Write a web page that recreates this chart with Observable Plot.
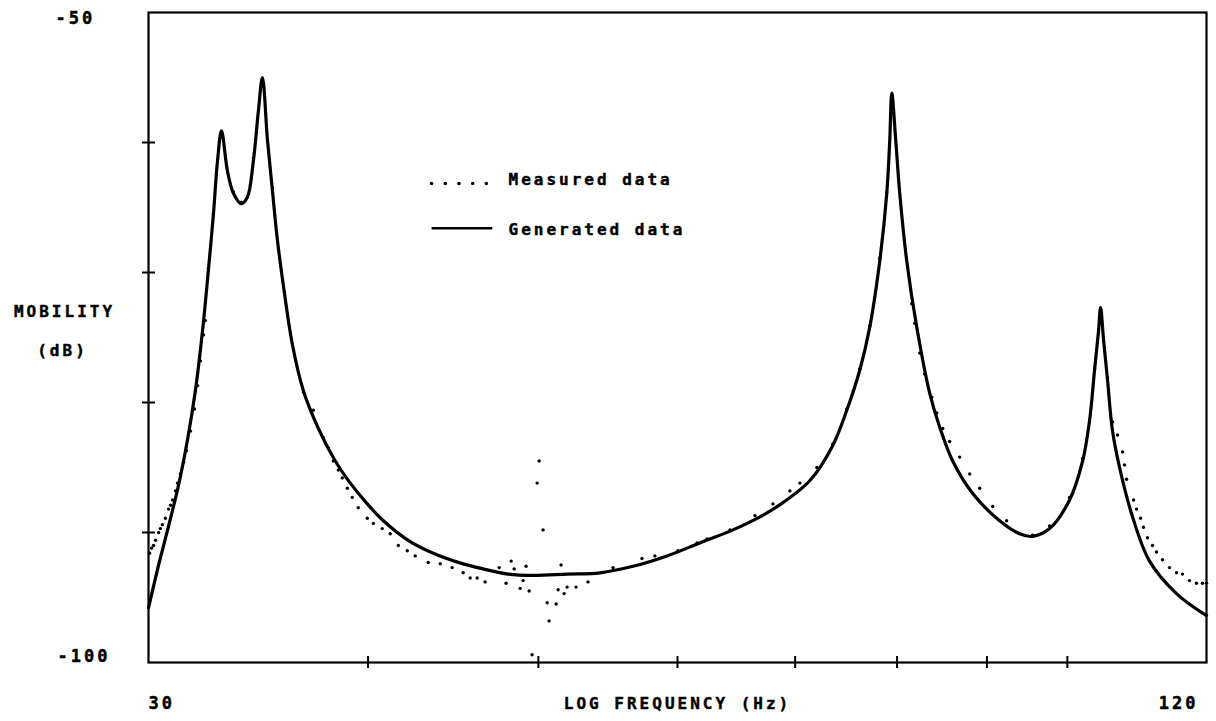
<!DOCTYPE html>
<html>
<head>
<meta charset="utf-8">
<script src="https://cdn.jsdelivr.net/npm/d3@7"></script>
<script src="https://cdn.jsdelivr.net/npm/@observablehq/plot@0.6"></script>
<style>
  body { margin: 0; background: #fff; }
  svg text { letter-spacing: 3px; }
</style>
</head>
<body>
<div id="chart"></div>
<script>
// ---- Data (frequency in Hz, mobility in dB) ----
const genFreq = [30.00, 30.40, 30.80, 31.20, 31.57, 31.90, 32.20, 32.45, 32.66, 32.84, 33.01, 33.27, 33.53, 33.88, 34.15, 34.42, 34.65, 34.83, 35.06, 35.29, 35.52, 35.85, 36.22, 36.75, 37.48, 38.32, 39.08, 39.96, 40.81, 42.16, 43.57, 45.02, 46.51, 48.06, 49.66, 51.92, 54.21, 56.60, 59.18, 61.79, 64.52, 66.84, 68.89, 71.37, 73.54, 74.90, 76.19, 77.19, 78.21, 78.93, 79.24, 79.45, 79.86, 80.28, 81.02, 82.09, 83.50, 84.60, 86.05, 88.34, 91.51, 93.94, 95.55, 97.70, 100.29, 102.02, 102.95, 103.63, 104.17, 104.45, 104.86, 105.41, 106.10, 107.08, 108.92, 111.37, 115.37, 120.00];
const genDb = [-95.8, -92.5, -89.5, -86.4, -82.9, -79.1, -74.5, -69.8, -65.6, -61.4, -59.1, -62.2, -63.9, -64.7, -64.2, -61.4, -57.5, -55.0, -59.8, -63.7, -67.5, -71.6, -75.5, -79.1, -82.0, -84.5, -86.2, -87.8, -89.1, -90.6, -91.6, -92.3, -92.8, -93.2, -93.3, -93.2, -93.1, -92.6, -91.8, -90.8, -89.8, -88.8, -87.7, -86.0, -83.3, -80.6, -77.5, -74.2, -69.1, -63.9, -59.8, -56.2, -59.8, -63.9, -69.1, -74.2, -79.3, -81.9, -84.5, -87.0, -89.1, -90.1, -90.3, -89.7, -87.5, -84.5, -81.4, -77.5, -74.5, -72.7, -75.2, -78.3, -82.2, -85.0, -88.8, -92.2, -94.7, -96.4];

const measFreq = [30.04, 30.12, 30.20, 30.28, 30.40, 30.47, 30.55, 30.67, 30.80, 30.88, 30.96, 31.08, 31.16, 31.28, 31.41, 31.53, 31.70, 31.86, 31.99, 32.11, 32.24, 32.32,
  32.45, 32.66, 33.01, 33.53, 33.88, 34.42, 34.83, 35.29, 35.85, 36.75,
  37.23, 37.72, 37.97, 38.22, 38.47, 38.67, 38.93, 39.18, 39.49, 39.96, 40.28, 40.75, 41.18, 41.62, 42.11, 42.55, 43.28, 43.97, 44.66, 45.31, 45.73, 46.15, 46.63,
  47.50, 47.93, 48.25, 48.44, 48.82, 49.01, 49.20, 49.40, 49.59, 49.92, 50.05, 50.31, 50.58, 50.71, 51.18, 51.31, 51.51, 51.72, 51.92, 52.53, 53.36,
  55.14, 57.27, 58.25, 60.03, 61.55, 62.36, 64.27, 66.41, 67.99, 69.52, 70.44, 72.02, 73.54, 74.90, 76.19, 77.19, 78.21, 78.93, 79.45,
  81.55, 81.88, 82.41, 82.95, 83.72, 84.27, 84.93, 85.71, 86.84, 87.99, 89.15, 90.68, 92.35, 95.55, 97.70, 100.29, 102.02, 103.63, 104.45, 105.41, 106.10,
  106.80, 107.50, 107.78, 108.06, 109.06, 109.49, 110.06, 110.49, 111.07, 111.80, 112.39, 113.28, 114.32, 115.37, 116.28, 117.35, 118.43, 119.37, 120.00];
const measDb = [-91.6, -91.2, -91.0, -90.6, -90.0, -89.7, -89.4, -88.9, -88.2, -87.9, -87.5, -86.8, -86.2, -85.5, -84.6, -83.7, -82.2, -80.5, -78.7, -76.8, -74.8, -73.7,
  -69.7, -65.5, -59.2, -63.8, -64.6, -61.2, -55.1, -63.5, -71.5, -79.2,
  -80.6, -82.7, -83.5, -84.5, -85.2, -85.8, -86.6, -87.3, -88.1, -88.9, -89.3, -89.7, -90.1, -91.0, -91.4, -91.8, -92.3, -92.4, -92.7, -93.1, -93.5, -93.5, -93.8,
  -92.7, -93.9, -92.2, -92.8, -94.3, -93.7, -92.6, -94.5, -99.4, -86.2, -84.5, -89.8, -95.4, -96.8, -95.5, -94.4, -92.5, -94.7, -94.2, -94.2, -93.8,
  -92.7, -92.0, -91.8, -91.4, -90.8, -90.5, -89.8, -88.7, -87.8, -86.8, -86.2, -85.0, -83.2, -80.5, -77.4, -74.1, -68.9, -63.8, -56.4,
  -72.4, -73.9, -76.2, -77.8, -79.6, -80.8, -82.0, -83.0, -84.2, -85.5, -86.6, -88.0, -89.1, -90.2, -89.5, -87.3, -84.3, -77.4, -72.8, -78.1, -81.5,
  -82.5, -83.8, -84.8, -85.9, -87.5, -88.2, -88.9, -89.6, -90.4, -91.0, -91.5, -92.1, -92.7, -93.1, -93.2, -93.7, -93.9, -93.9, -93.9];

// Axes: tick values and labels
const xDomain = [30, 120];
const yDomain = [-100, -50];
const xTickValues = [40, 50, 60, 70, 80, 90, 100];
const yTickValues = [-60, -70, -80, -90];
const xEndLabels = ["30", "120"];
const yEndLabels = ["-50", "-100"];
const yTitle = ["MOBILITY", "(dB)"];
const xTitle = "LOG FREQUENCY (Hz)";
const seriesNames = ["Measured data", "Generated data"];
const legendY = [-63.15, -66.6];
const legendX = [43.5, 46.8, 47.1];

const generated = genFreq.map((f, i) => ({f, db: genDb[i]}));
const measured = measFreq.map((f, i) => ({f, db: measDb[i]}));

const textStyle = {fill: "#000", stroke: "#000", strokeWidth: 0.45};

const chart = Plot.plot({
  width: 1216,
  height: 721,
  marginLeft: 148,
  marginRight: 10,
  marginTop: 12,
  marginBottom: 59,
  x: {type: "log", domain: xDomain, axis: null},
  y: {domain: yDomain, axis: null},
  style: {fontFamily: "DejaVu Sans Mono", fontWeight: "bold", color: "#000", background: "#fff"},
  marks: [
    Plot.frame({stroke: "#000", strokeWidth: 2.2}),
    Plot.tickX(xTickValues, {x: d => d, insetTop: 644, insetBottom: -6, stroke: "#000", strokeWidth: 2}),
    Plot.tickY(yTickValues, {y: d => d, insetLeft: -6, insetRight: 1051, stroke: "#000", strokeWidth: 2}),
    Plot.line(generated, {x: "f", y: "db", curve: "catmull-rom", stroke: "#000", strokeWidth: 3.2}),
    Plot.dot(measured, {x: "f", y: "db", r: 1.7, fill: "#000", stroke: null}),
    // legend
    Plot.ruleY([legendY[0]], {y: d => d, x1: legendX[0], x2: legendX[1], stroke: "#000", strokeWidth: 3.6, strokeLinecap: "round", strokeDasharray: "0,13.7"}),
    Plot.ruleY([legendY[1]], {y: d => d, x1: legendX[0], x2: legendX[2], stroke: "#000", strokeWidth: 2.6}),
    Plot.text([seriesNames[0]], {frameAnchor: "top-left", dx: 360, dy: 161, textAnchor: "start", fontSize: 16, ...textStyle}),
    Plot.text([seriesNames[1]], {frameAnchor: "top-left", dx: 360, dy: 211, textAnchor: "start", fontSize: 16, ...textStyle}),
    // y end labels
    Plot.text([yDomain[1]], {x: xDomain[0], y: d => d, text: () => yEndLabels[0], textAnchor: "start", dx: -93, dy: 6, fontSize: 17, ...textStyle}),
    Plot.text([yDomain[0]], {x: xDomain[0], y: d => d, text: () => yEndLabels[1], textAnchor: "start", dx: -91, dy: -6, fontSize: 17, ...textStyle}),
    // x end labels
    Plot.text([xDomain[0]], {x: d => d, frameAnchor: "bottom", dy: 46, text: () => xEndLabels[0], textAnchor: "start", dx: 0, fontSize: 17, ...textStyle}),
    Plot.text([xDomain[1]], {x: d => d, frameAnchor: "bottom", dy: 46, text: () => xEndLabels[1], textAnchor: "end", dx: -8, fontSize: 17, ...textStyle}),
    // axis titles
    Plot.text([xTitle], {frameAnchor: "bottom", dy: 46, fontSize: 16, ...textStyle}),
    Plot.text([yTitle[0]], {frameAnchor: "left", textAnchor: "middle", dx: -84, dy: -26, fontSize: 16, ...textStyle}),
    Plot.text([yTitle[1]], {frameAnchor: "left", textAnchor: "middle", dx: -86, dy: 13, fontSize: 16, ...textStyle})
  ]
});
document.getElementById("chart").appendChild(chart);
</script>
</body>
</html>
